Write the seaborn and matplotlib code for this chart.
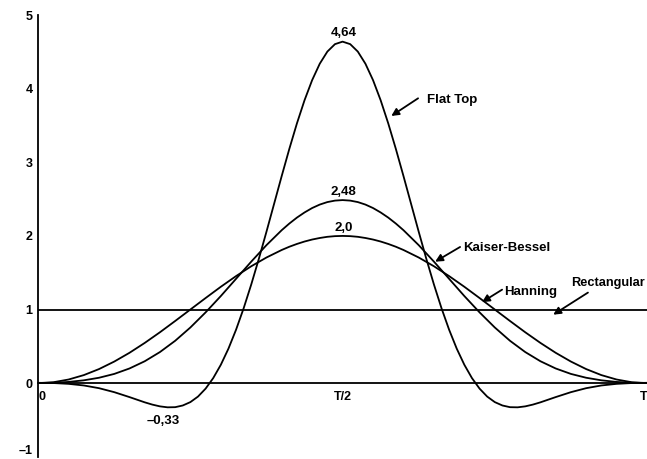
import matplotlib
matplotlib.use("Agg")
import matplotlib.pyplot as plt
import pandas as pd
import seaborn as sns

# ---- data ----
t_smooth = [0.000, 0.025, 0.050, 0.075, 0.100, 0.125, 0.150, 0.175, 0.200, 0.225,
            0.250, 0.275, 0.300, 0.325, 0.350, 0.375, 0.400,
            0.4125, 0.4250, 0.4375, 0.4500, 0.4625, 0.4750, 0.4875, 0.5000,
            0.5125, 0.5250, 0.5375, 0.5500, 0.5625, 0.5750, 0.5875,
            0.600, 0.625, 0.650, 0.675, 0.700, 0.725, 0.750, 0.775, 0.800,
            0.825, 0.850, 0.875, 0.900, 0.925, 0.950, 0.975, 1.000]

hanning = [0.000, 0.012, 0.049, 0.109, 0.191, 0.293, 0.412, 0.546, 0.691, 0.844,
           1.000, 1.156, 1.309, 1.454, 1.588, 1.707, 1.809,
           1.853, 1.891, 1.924, 1.951, 1.972, 1.988, 1.997, 2.000,
           1.997, 1.988, 1.972, 1.951, 1.924, 1.891, 1.853,
           1.809, 1.707, 1.588, 1.454, 1.309, 1.156, 1.000, 0.844, 0.691,
           0.546, 0.412, 0.293, 0.191, 0.109, 0.049, 0.012, 0.000]

kaiser_bessel = [0.001, 0.005, 0.016, 0.038, 0.073, 0.125, 0.199, 0.297, 0.422, 0.575,
                 0.756, 0.961, 1.183, 1.417, 1.651, 1.875, 2.078,
                 2.168, 2.249, 2.319, 2.379, 2.426, 2.460, 2.480, 2.487,
                 2.480, 2.460, 2.426, 2.379, 2.319, 2.249, 2.168,
                 2.078, 1.875, 1.651, 1.417, 1.183, 0.961, 0.756, 0.575, 0.422,
                 0.297, 0.199, 0.125, 0.073, 0.038, 0.016, 0.005, 0.001]

t_flat = [0.000, 0.025, 0.050, 0.075, 0.100, 0.125, 0.150, 0.175,
          0.1875, 0.2000, 0.2125, 0.2250, 0.2375, 0.2500, 0.2625, 0.2750, 0.2875,
          0.3000, 0.3125, 0.3250, 0.3375, 0.3500, 0.3625, 0.3750, 0.3875,
          0.4000, 0.4125, 0.4250, 0.4375, 0.4500, 0.4625, 0.4750, 0.4875, 0.5000,
          0.5125, 0.5250, 0.5375, 0.5500, 0.5625, 0.5750, 0.5875, 0.6000,
          0.6125, 0.6250, 0.6375, 0.6500, 0.6625, 0.6750, 0.6875, 0.7000,
          0.7125, 0.7250, 0.7375, 0.7500, 0.7625, 0.7750, 0.7875, 0.8000, 0.8125,
          0.825, 0.850, 0.875, 0.900, 0.925, 0.950, 0.975, 1.000]

flat_top = [0.004, 0.001, -0.010, -0.032, -0.069, -0.123, -0.190, -0.261,
            -0.292, -0.316, -0.329, -0.327, -0.304, -0.258, -0.183, -0.075, 0.068,
            0.249, 0.468, 0.725, 1.017, 1.341, 1.690, 2.058, 2.436,
            2.814, 3.182, 3.529, 3.844, 4.117, 4.340, 4.505, 4.606, 4.640,
            4.606, 4.505, 4.340, 4.117, 3.844, 3.529, 3.182, 2.814,
            2.436, 2.058, 1.690, 1.341, 1.017, 0.725, 0.468, 0.249,
            0.068, -0.075, -0.183, -0.258, -0.304, -0.327, -0.329, -0.316, -0.292,
            -0.261, -0.190, -0.123, -0.069, -0.032, -0.010, 0.001, 0.004]

t_rect = [0.0, 1.0]
rectangular = [1.0, 1.0]

y_ticks = [-1, 0, 1, 2, 3, 4, 5]
y_tick_labels = ["–1", "0", "1", "2", "3", "4", "5"]
x_ticks = [0.0, 0.5, 1.0]
x_tick_labels = ["0", "T/2", "T"]

# ---- build long table ----
frames = []
for name, vals, xs in [("Hanning", hanning, t_smooth),
                       ("Kaiser-Bessel", kaiser_bessel, t_smooth),
                       ("Flat Top", flat_top, t_flat),
                       ("Rectangular", rectangular, t_rect)]:
    frames.append(pd.DataFrame({"t": xs, "w": vals, "window": name}))
df = pd.concat(frames, ignore_index=True)

sns.set_style("white")
plt.rcParams["font.family"] = ["Liberation Sans", "DejaVu Sans"]
plt.rcParams["font.weight"] = "bold"

fig = plt.figure(figsize=(6.47, 4.59), dpi=100)
ax = fig.add_axes([0.059, 0.005, 0.941, 0.962])

palette = {"Hanning": "black", "Kaiser-Bessel": "black",
           "Flat Top": "black", "Rectangular": "black"}
sns.lineplot(data=df, x="t", y="w", hue="window", palette=palette,
             estimator=None, sort=False, linewidth=1.3, legend=False, ax=ax)

ax.set_xlim(0, 1.0)
ax.set_ylim(-1, 5)
ax.set_xlabel("")
ax.set_ylabel("")

for s in ["top", "right"]:
    ax.spines[s].set_visible(False)
ax.spines["left"].set_color("black")
ax.spines["left"].set_linewidth(1.3)
ax.spines["bottom"].set_position(("data", 0))
ax.spines["bottom"].set_color("black")
ax.spines["bottom"].set_linewidth(1.3)

ax.set_yticks(y_ticks)
ax.set_yticklabels(y_tick_labels, fontsize=9, fontweight="bold")
ax.tick_params(axis="y", direction="in", length=4, width=1, pad=4, colors="black")
ax.get_yticklabels()[0].set_va("bottom")

ax.set_xticks(x_ticks)
ax.set_xticklabels(x_tick_labels, fontsize=9, fontweight="bold")
ax.tick_params(axis="x", direction="inout", length=7, width=1, pad=2, colors="black")
xl = ax.get_xticklabels()
xl[0].set_ha("left")
xl[2].set_ha("right")

tk = dict(fontsize=9.5, fontweight="bold", color="black")
ax.text(0.502, 4.67, "4,64", ha="center", va="bottom", **tk)
ax.text(0.502, 2.52, "2,48", ha="center", va="bottom", **tk)
ax.text(0.502, 2.02, "2,0", ha="center", va="bottom", **tk)
ax.text(0.205, -0.51, "–0,33", ha="center", va="center", **tk)

ax.text(0.639, 3.845, "Flat Top", ha="left", va="center", **tk)
ax.text(0.698, 1.836, "Kaiser-Bessel", ha="left", va="center", **tk)
ax.text(0.765, 1.24, "Hanning", ha="left", va="center", **tk)
ax.text(0.997, 1.36, "Rectangular", ha="right", va="center",
        fontsize=9.2, fontweight="bold", color="black")

ap = dict(arrowstyle="-|>", color="black", lw=1.3, mutation_scale=11,
          shrinkA=0, shrinkB=0)
ax.annotate("", xy=(0.580, 3.63), xytext=(0.624, 3.87), arrowprops=ap)
ax.annotate("", xy=(0.652, 1.65), xytext=(0.693, 1.85), arrowprops=ap)
ax.annotate("", xy=(0.729, 1.10), xytext=(0.762, 1.27), arrowprops=ap)
ax.annotate("", xy=(0.846, 0.93), xytext=(0.903, 1.23), arrowprops=ap)

fig.savefig("out.png", dpi=100)
